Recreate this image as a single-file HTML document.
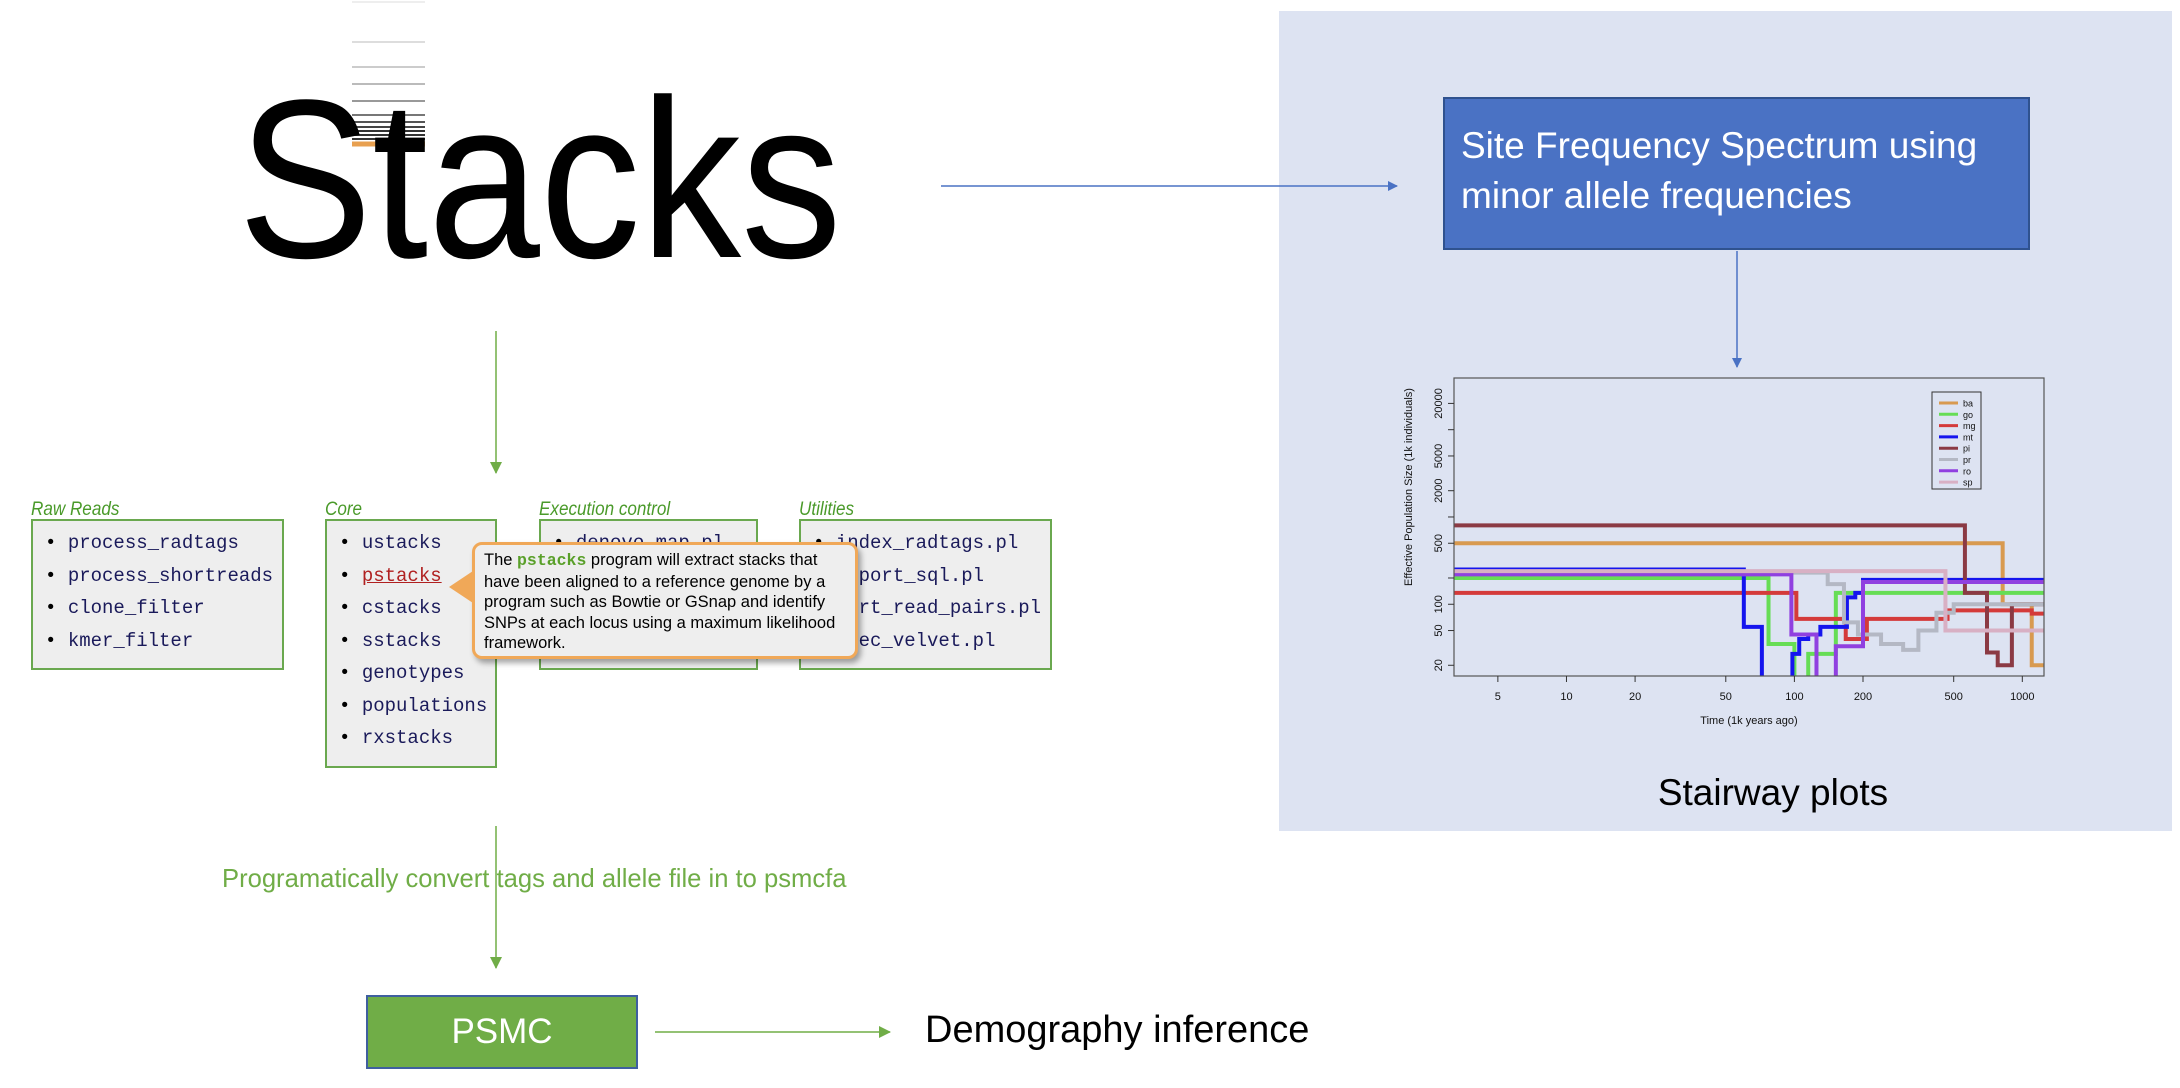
<!DOCTYPE html>
<html><head><meta charset="utf-8">
<style>
body{margin:0;width:2180px;height:1088px;background:#fff;position:relative;overflow:hidden;font-family:"Liberation Sans",sans-serif}
.abs{position:absolute}
.hdr{position:absolute;font-style:italic;color:#4a9a2a;font-size:19px;transform:scaleX(0.9);transform-origin:left}
.box{position:absolute;background:#eeeeee;border:2px solid #6aa84f;box-sizing:border-box}
.box ul{margin:0;padding:0;list-style:none}
.box li{font-family:"Liberation Mono",monospace;font-size:19px;color:#1a1a5a;height:32.5px;line-height:32.5px;padding-left:12px;white-space:nowrap}
.box li:before{content:"• ";color:#000}
</style></head><body>
<div class="abs" style="left:248px;top:0;width:600px;height:280px">
  <svg width="600" height="280" style="position:absolute;left:0;top:0">
    <g stroke-width="2">
      <line x1="104" x2="177" y1="2" y2="2" stroke="#eee"/>
      <line x1="104" x2="177" y1="42" y2="42" stroke="#ddd"/>
      <line x1="104" x2="177" y1="67" y2="67" stroke="#ccc"/>
      <line x1="104" x2="177" y1="84" y2="84" stroke="#bbb"/>
      <line x1="104" x2="177" y1="101" y2="101" stroke="#999"/>
      <line x1="104" x2="177" y1="115" y2="115" stroke="#777"/>
      <line x1="104" x2="177" y1="122" y2="122" stroke="#555"/>
      <line x1="104" x2="177" y1="127" y2="127" stroke="#444"/>
      <line x1="104" x2="177" y1="131" y2="131" stroke="#333"/>
      <line x1="104" x2="177" y1="135" y2="135" stroke="#333"/>
      <line x1="104" x2="177" y1="139" y2="139" stroke="#333"/>
      <line x1="104" x2="177" y1="144" y2="144" stroke="#e8a050" stroke-width="5"/>
    </g>
  </svg>
  <div style="position:absolute;left:-10px;top:66px;font-size:226px;line-height:226px;color:#000;transform:scaleX(0.89);transform-origin:left;white-space:nowrap">Stacks</div>
</div>

<div class="hdr" style="left:31px;top:499px">Raw Reads</div>
<div class="box" style="left:31px;top:519px;width:253px;height:151px"><ul style="padding-top:6px">
<li>process_radtags</li>
<li>process_shortreads</li>
<li>clone_filter</li>
<li>kmer_filter</li></ul></div>

<div class="hdr" style="left:325px;top:499px">Core</div>
<div class="box" style="left:325px;top:519px;width:172px;height:249px"><ul style="padding-top:6px">
<li>ustacks</li>
<li><span style="color:#b02020;text-decoration:underline">pstacks</span></li>
<li>cstacks</li>
<li>sstacks</li>
<li>genotypes</li>
<li>populations</li>
<li>rxstacks</li></ul></div>

<div class="hdr" style="left:539px;top:499px">Execution control</div>
<div class="box" style="left:539px;top:519px;width:219px;height:151px"><ul style="padding-top:6px">
<li>denovo_map.pl</li></ul></div>

<div class="hdr" style="left:799px;top:499px">Utilities</div>
<div class="box" style="left:799px;top:519px;width:253px;height:151px"><ul style="padding-top:6px">
<li>index_radtags.pl</li>
<li>export_sql.pl</li>
<li>sort_read_pairs.pl</li>
<li>exec_velvet.pl</li></ul></div>

<div class="abs" style="left:472px;top:542px;width:386px;height:117px;background:#eeeeee;border:3px solid #f0a858;border-radius:10px;box-sizing:border-box;box-shadow:3px 4px 6px rgba(0,0,0,0.35);color:#000">
  <div style="position:absolute;left:-26px;top:26px;width:0;height:0;border-top:16px solid transparent;border-bottom:16px solid transparent;border-right:24px solid #f0a858"></div>
  <div style="position:absolute;left:9px;top:5px;width:410px;font-size:16.5px;line-height:20.5px;white-space:nowrap;transform:scaleX(1.0);transform-origin:left top">The <b style="font-family:'Liberation Mono',monospace;color:#5aa02a">pstacks</b> program will extract stacks that<br>have been aligned to a reference genome by a<br>program such as Bowtie or GSnap and identify<br>SNPs at each locus using a maximum likelihood<br>framework.</div>
</div>

<div class="abs" style="left:222px;top:865px;font-size:25.6px;color:#70ad47;white-space:nowrap">Programatically convert tags and allele file in to psmcfa</div>

<div class="abs" style="left:366px;top:995px;width:272px;height:74px;background:#70ad47;border:2px solid #3f5f9f;box-sizing:border-box;color:#fff;font-size:35px;line-height:70px;text-align:center">PSMC</div>
<div class="abs" style="left:925px;top:1009px;font-size:38px;color:#000;white-space:nowrap">Demography inference</div>

<div class="abs" style="left:1279px;top:11px;width:893px;height:820px;background:#dde3f2"></div>
<div class="abs" style="left:1443px;top:97px;width:587px;height:153px;background:#4a72c4;border:2px solid #2f528f;box-sizing:border-box;color:#fff;font-size:37px;line-height:50px;padding:22px 0 0 16px">Site Frequency Spectrum using<br>minor allele frequencies</div>
<div class="abs" style="left:1573px;top:772px;width:400px;text-align:center;font-size:37px;color:#000">Stairway plots</div>

<svg id="chart" class="abs" style="left:1279px;top:360px" width="893" height="420"></svg>

<svg class="abs" style="left:0;top:0;pointer-events:none" width="2180" height="1088">
  <defs>
    <marker id="ab" markerWidth="10" markerHeight="10" refX="9" refY="5" orient="auto" markerUnits="userSpaceOnUse"><path d="M0,0 L10,5 L0,10z" fill="#4a72c4"/></marker>
    <marker id="ag" markerWidth="12" markerHeight="12" refX="11" refY="6" orient="auto" markerUnits="userSpaceOnUse"><path d="M0,0 L12,6 L0,12z" fill="#70ad47"/></marker>
  </defs>
  <line x1="941" y1="186" x2="1397" y2="186" stroke="#4a72c4" stroke-width="1.5" marker-end="url(#ab)"/>
  <line x1="1737" y1="251" x2="1737" y2="367" stroke="#4a72c4" stroke-width="1.5" marker-end="url(#ab)"/>
  <line x1="496" y1="331" x2="496" y2="473" stroke="#70ad47" stroke-width="1.5" marker-end="url(#ag)"/>
  <line x1="496" y1="826" x2="496" y2="968" stroke="#70ad47" stroke-width="1.5" marker-end="url(#ag)"/>
  <line x1="655" y1="1032" x2="890" y2="1032" stroke="#70ad47" stroke-width="1.5" marker-end="url(#ag)"/>
</svg>

<script>
const NS="http://www.w3.org/2000/svg";
const seriesNames=["ba","go","mg","mt","pi","pr","ro","sp"];
const seriesColors=["#d89a50","#66dd55","#d43a3a","#1515ee","#8b3a44","#b4b8c4","#9040e0","#d8b0c4"];
// each series: change-point times (1k years) and values (1k individuals)
const baX=[3.2,820,1100];const baY=[500,100,20];
const goX=[3.2,77,100,115,152];const goY=[200,35,10,27,135];
const mgX=[3.2,102,168,208,470,1100];const mgY=[135,68,40,68,85,78];
const mtX=[3.2,60,72,98,105,115,130,170,185,200];const mtY=[250,55,10,27,40,45,55,120,135,190];
const piX=[3.2,560,700,780,900];const piY=[800,135,28,20,100];
const prX=[3.2,140,165,190,240,300,350,420,500];const prY=[230,170,62,45,35,30,50,80,100];
const roX=[3.2,97,125,152,200];const roY=[220,45,10,33,180];
const spX=[3.2,460];const spY=[240,50];
const allX=[baX,goX,mgX,mtX,piX,prX,roX,spX];const allY=[baY,goY,mgY,mtY,piY,prY,roY,spY];
const xTicks=[5,10,20,50,100,200,500,1000];
const yTicks=[20,50,100,200,500,1000,2000,5000,10000,20000];
const yLabeled=[20,50,100,500,2000,5000,20000];
const L=175,R=765,T=18,B=316;
const xMin=Math.log10(3.21),xMax=Math.log10(1245),yMin=Math.log10(15.07),yMax=Math.log10(39100);
const xs=v=>L+(Math.log10(v)-xMin)/(xMax-xMin)*(R-L);
const ys=v=>{let c=Math.max(v,10);return B-(Math.log10(c)-yMin)/(yMax-yMin)*(B-T);};
const svg=document.getElementById('chart');
function mk(t,a){const e=document.createElementNS(NS,t);for(const k in a)e.setAttribute(k,a[k]);svg.appendChild(e);return e;}
const cp=mk('clipPath',{id:'cp'});const cr=document.createElementNS(NS,'rect');cr.setAttribute('x',L);cr.setAttribute('y',T);cr.setAttribute('width',R-L);cr.setAttribute('height',B-T);cp.appendChild(cr);
allX.forEach((X,i)=>{let d='';X.forEach((x,j)=>{const y=ys(allY[i][j]);d+=(j?`L${xs(x)},${y}`:`M${xs(x)},${y}`);const nx=j<X.length-1?X[j+1]:1245;d+=`L${xs(nx)},${y}`;});
  const p=mk('path',{d:d,fill:'none',stroke:seriesColors[i],'stroke-width':4,'clip-path':'url(#cp)'});
  
  });
const fr=mk('rect',{x:L,y:T,width:R-L,height:B-T,fill:'none',stroke:'#555','stroke-width':1.2});


xTicks.forEach(v=>{const x=xs(v);mk('line',{x1:x,x2:x,y1:B,y2:B+6,stroke:'#333'});
  const t=mk('text',{x:x,y:B+24,'font-size':11,'text-anchor':'middle',fill:'#111'});t.textContent=v;
  
  });
yTicks.forEach(v=>{const y=ys(v);mk('line',{x1:L-6,x2:L,y1:y,y2:y,stroke:'#333'});
  if(yLabeled.includes(v)){const t=mk('text',{x:0,y:0,'font-size':11,'text-anchor':'middle',fill:'#111',transform:`translate(${L-12},${y}) rotate(-90)`});t.textContent=v;
  
  }});
const xt=mk('text',{x:(L+R)/2,y:B+48,'font-size':11,'text-anchor':'middle',fill:'#111'});xt.textContent='Time (1k years ago)';


const yt=mk('text',{x:0,y:0,'font-size':11,'text-anchor':'middle',fill:'#111',transform:`translate(${L-42},${(T+B)/2-40}) rotate(-90)`});yt.textContent='Effective Population Size (1k individuals)';


const lx=653,ly=32;
const lg=mk('rect',{x:lx,y:ly,width:49,height:97,fill:'none',stroke:'#333','stroke-width':1});


seriesNames.forEach((n,i)=>{const y=ly+11+i*11.3;mk('line',{x1:lx+7,x2:lx+26,y1:y,y2:y,stroke:seriesColors[i],'stroke-width':3});
  const t=mk('text',{x:lx+31,y:y+3.5,'font-size':9,fill:'#111'});t.textContent=n;
  
  });
</script>
</body></html>
